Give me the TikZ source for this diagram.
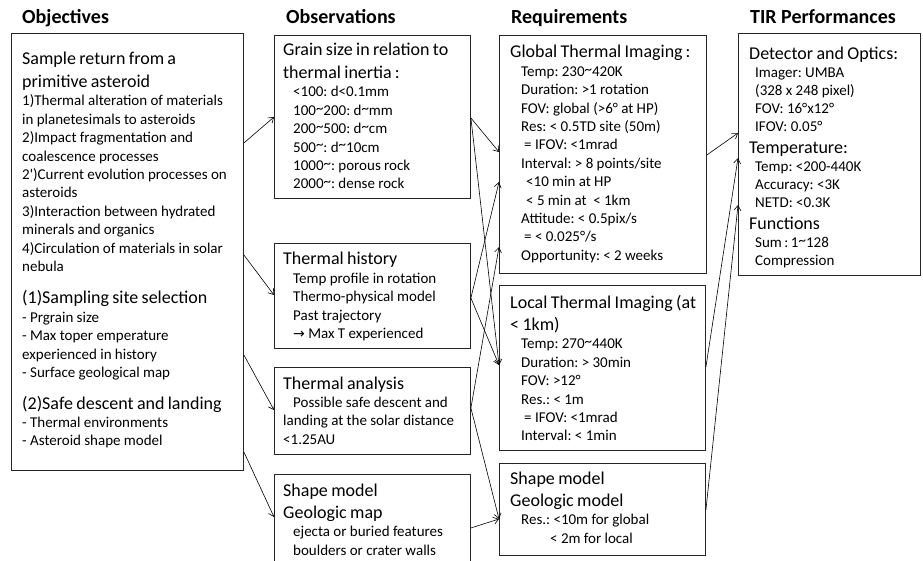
\documentclass[tikz,border=0pt]{standalone}
\usepackage{fontspec}
\setmainfont{Carlito}
\newfontfamily\arrowfont{DejaVu Sans}
\usetikzlibrary{arrows.meta}
\setlength{\parindent}{0pt}
\frenchspacing
\newcommand{\ttl}{\fontsize{18}{22.5}\selectfont}
\newcommand{\itm}{\fontsize{15}{18.4}\selectfont}
\newcommand{\tld}{\raisebox{0.3ex}{\textasciitilde}}
\tikzset{
  panel/.style={draw=black!85,line width=0.9pt,anchor=north west,inner sep=0pt},
  body/.style={anchor=base west,inner sep=0pt,text width=230pt,align=left},
  head/.style={anchor=base west,inner sep=0pt,font=\fontsize{20}{24}\selectfont\bfseries},
  link/.style={-{Straight Barb[length=5pt,width=7pt]},line width=0.6pt}
}
\begin{document}
\begin{tikzpicture}[x=1pt,y=-1pt]
\path[use as bounding box,fill=white] (0,0) rectangle (923,561);
% column headings
\node[head] (hobj) at (22,24) {Objectives};
\node[head] (hobs) at (286,24) {Observations};
\node[head] (hreq) at (511,24) {Requirements};
\node[head] (htir) at (750,24) {TIR Performances};
% boxes
\node[panel,minimum width=232pt,minimum height=437pt] at (11,33) (obj) {};
\node[panel,minimum width=196pt,minimum height=163pt] at (274,35) (grain) {};
\node[panel,minimum width=196pt,minimum height=105pt] at (274,243) (history) {};
\node[panel,minimum width=196pt,minimum height=87pt] at (274,367) (analysis) {};
\node[panel,minimum width=196pt,minimum height=100pt] at (274,474) (shapeobs) {};
\node[panel,minimum width=207pt,minimum height=238pt] at (499,35) (globalreq) {};
\node[panel,minimum width=206pt,minimum height=165pt] at (499,285) (localreq) {};
\node[panel,minimum width=206pt,minimum height=92pt] at (499,463) (shapereq) {};
\node[panel,minimum width=182pt,minimum height=242pt] at (738,33) (tir) {};
% texts
\node[body] at (22,65) (objtext) {%
{\ttl Sample return from a\par primitive asteroid\par}
{\itm 1)Thermal alteration of materials\par in planetesimals to asteroids\par
2)Impact fragmentation and\par coalescence processes\par
2\textquotesingle)Current evolution processes on\par asteroids\par
3)Interaction between hydrated\par minerals and organics\par
4)Circulation of materials in solar\par nebula\par}
\vspace{10pt}
{\ttl (1)Sampling site selection\par}
{\itm - Prgrain size\par - Max toper emperature\par experienced in history\par - Surface geological map\par}
\vspace{9pt}
{\ttl (2)Safe descent and landing\par}
{\itm - Thermal environments\par - Asteroid shape model\par}};
\node[body] at (283,56) (graintext) {%
{\ttl Grain size in relation to\par thermal inertia\,:\par}
{\itm\leftskip=10pt <100: d<0.1mm\par 100\tld200: d\tld mm\par
200\tld500: d\tld cm\par 500\tld: d\tld10cm\par
1000\tld: porous rock\par 2000\tld: dense rock\par}};
\node[body] at (283,265) (historytext) {%
{\ttl Thermal history\par}
{\itm\leftskip=10pt Temp profile in rotation\par Thermo-physical model\par Past trajectory\par
{\arrowfont\fontsize{14}{18.4}\selectfont →} Max T experienced\par}};
\node[body] at (283,389) (analysistext) {%
{\ttl Thermal analysis\par}
{\itm \hspace*{10pt}Possible safe descent and\par landing at the solar distance\par <1.25AU\par}};
\node[body] at (283,496) (shapeobstext) {%
{\ttl Shape model\par Geologic map\par}
{\itm\leftskip=10pt ejecta or buried features\par boulders or crater walls\par}};
\node[body] at (510,58) (globaltext) {%
{\ttl Global Thermal Imaging\,:\par}
{\itm\leftskip=11pt Temp: 230\tld420K\par Duration: >1 rotation\par
FOV: global (>6° at HP)\par Res: < 0.5TD site (50m)\par
\hspace*{3pt}= IFOV: <1mrad\par Interval: > 8 points/site\par
\hspace*{5pt}<10 min at HP\par \hspace*{5pt}< 5 min at \ < 1km\par
Attitude: < 0.5pix/s\par \hspace*{3pt}= < 0.025°/s\par Opportunity: < 2 weeks\par}};
\node[body] at (510,308) (localtext) {%
{\ttl Local Thermal Imaging (at\par < 1km)\par}
{\itm\leftskip=11pt Temp: 270\tld440K\par Duration: > 30min\par FOV: >12°\par
Res.: < 1m\par \hspace*{3pt}= IFOV: <1mrad\par Interval: < 1min\par}};
\node[body] at (510,484) (shapereqtext) {%
{\ttl Shape model\par Geologic model\par}
{\itm\leftskip=11pt Res.: <10m for global\par \hspace*{29pt}< 2m for local\par}};
\node[body] at (749,60) (tirtext) {%
{\fontsize{18}{22}\selectfont Detector and Optics:\par}
{\fontsize{15}{18}\selectfont\leftskip=6pt Imager: UMBA\par (328 x 248 pixel)\par FOV: 16°x12°\par IFOV: 0.05°\par}
{\fontsize{18}{22}\selectfont Temperature:\par}
{\fontsize{15}{18}\selectfont\leftskip=6pt Temp: <200-440K\par Accuracy: <3K\par NETD: <0.3K\par}
{\fontsize{18}{22}\selectfont Functions\par}
{\fontsize{15}{18}\selectfont\leftskip=6pt Sum\,:\,1\tld128\par Compression\par}};
% objectives to observations
\draw[link] (obj.east |- 0,143) -- (grain.west |- 0,117);
\draw[link] (obj.east |- 0,255) -- (history.west |- 0,295);
\draw[link] (obj.east |- 0,355) -- (analysis.west |- 0,410);
\draw[link] (obj.east |- 0,452) -- (shapeobs.west |- 0,517);
% observations to requirements
\draw[link] (grain.east |- 0,118) -- (globalreq.west |- 0,152);
\draw[link] (grain.east |- 0,118) -- (localreq.west |- 0,365);
\draw[link] (history.east |- 0,298) -- (globalreq.west |- 0,182);
\draw[link] (history.east |- 0,298) -- (localreq.west |- 0,365);
\draw[link] (analysis.east |- 0,408) -- (globalreq.west |- 0,247);
\draw[link] (analysis.east |- 0,408) -- (shapereq.west |- 0,519);
\draw[link] (shapeobs.east |- 0,528) -- (shapereq.west |- 0,519);
% requirements to performances
\draw[link] (globalreq.east |- 0,155) -- (tir.west |- 0,133);
\draw[link] (localreq.east |- 0,367) -- (tir.west |- 0,158);
\draw[link] (shapereq.east |- 0,510) -- (tir.west |- 0,205);
\end{tikzpicture}
\end{document}
